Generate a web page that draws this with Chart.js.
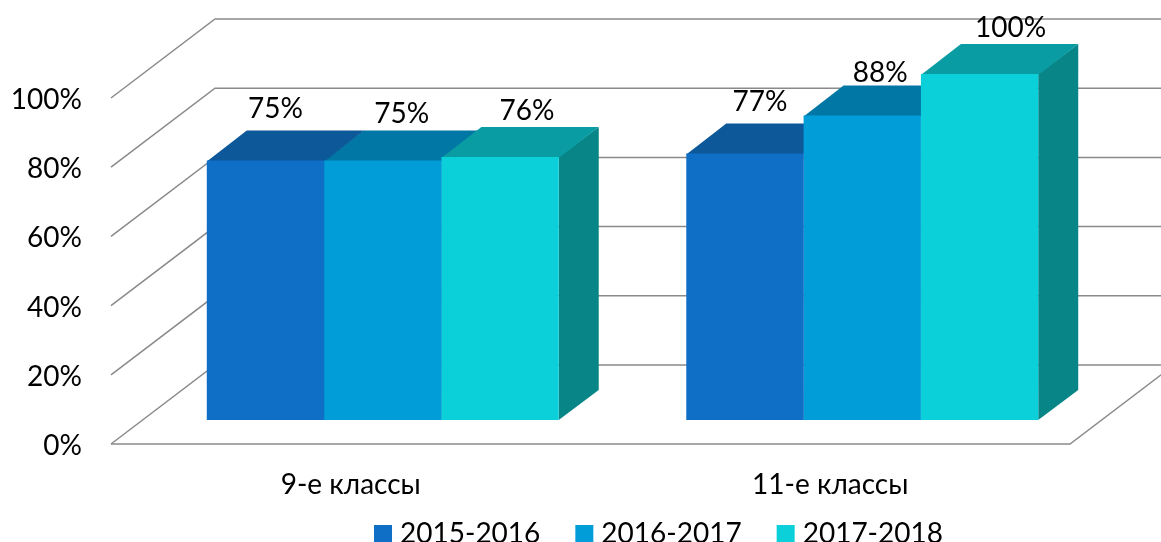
<!DOCTYPE html>
<html>
<head>
<meta charset="utf-8">
<style>
  html, body { margin: 0; padding: 0; background: #fff; }
  canvas { display: block; }
</style>
<script src="https://cdn.jsdelivr.net/npm/chart.js@4/dist/chart.umd.min.js"></script>
</head>
<body>
<canvas id="chart" width="1161" height="542"></canvas>
<script>
// ── DATA ──
const categories = ['9-е классы', '11-е классы'];
const seriesNames = ['2015-2016', '2016-2017', '2017-2018'];
const values2015 = [75, 77];
const values2016 = [75, 88];
const values2017 = [76, 100];
const yTicks = [0, 20, 40, 60, 80, 100];

// ── STYLE ──
const frontColors = ['#0f6fc6', '#009dd9', '#0bd0d9'];
const topColors = ['#0c5899', '#0177a5', '#0a9ca3'];
const sideColors = ['#09467d', '#006389', '#078587'];
const gridColor = '#8a8a8a';
const fontFamily = 'Lato, "Open Sans", sans-serif';

// how far the bars stand behind the axis plane, the wall behind it, and the bar depth
const barPlane = { x: 32, y: 24 };
const wallPlane = { x: 104, y: 79 };
const barDepth = { x: 40, y: 30 };

// label nudges from the bar's top centre [series][category]
const labelDx = [[10, 15], [19, 18], [27, 31]];
const labelDy = [[-52, -52], [-47, -43], [-46, -46]];

// ── 3D WALLS AND BAR FACES ──
const depth3d = {
  id: 'depth3d',
  afterLayout(chart) {
    // legend sits right of centre and hugs the bottom edge, like the original
    const lg = chart.legend;
    const w = lg.right - lg.left;
    const h = lg.bottom - lg.top;
    lg.left = 661.5 - w / 2;
    lg.right = lg.left + w;
    lg.top = 479;
    lg.bottom = lg.top + h;
    // axis box is kept short for the layout, labels need the room below it
    chart.scales.x.bottom = chart.scales.x.top + 100;
  },
  beforeDatasetsDraw(chart) {
    const { ctx, scales: { x, y } } = chart;
    const frontLeft = x.left - barPlane.x;
    const frontRight = x.right - barPlane.x;
    const backLeft = frontLeft + wallPlane.x;

    ctx.save();
    ctx.strokeStyle = gridColor;
    ctx.lineWidth = 1.5;
    yTicks.forEach(v => {
      const py = y.getPixelForValue(v) + barPlane.y;
      ctx.beginPath();
      ctx.moveTo(frontLeft, py);
      ctx.lineTo(backLeft, py - wallPlane.y);
      ctx.lineTo(chart.width, py - wallPlane.y);
      ctx.stroke();
    });
    // floor edge
    const floor = y.getPixelForValue(0) + barPlane.y;
    ctx.beginPath();
    ctx.moveTo(frontLeft, floor);
    ctx.lineTo(frontRight, floor);
    ctx.lineTo(frontRight + wallPlane.x, floor - wallPlane.y);
    ctx.stroke();

    // tops and sides go under the fronts, left to right
    categories.forEach((c, j) => {
      seriesNames.forEach((s, i) => {
        const bar = chart.getDatasetMeta(i).data[j];
        const l = bar.x - bar.width / 2;
        const r = bar.x + bar.width / 2;
        ctx.fillStyle = sideColors[i];
        ctx.beginPath();
        ctx.moveTo(r, bar.y);
        ctx.lineTo(r + barDepth.x, bar.y - barDepth.y);
        ctx.lineTo(r + barDepth.x, bar.base - barDepth.y);
        ctx.lineTo(r, bar.base);
        ctx.closePath();
        ctx.fill();
        ctx.fillStyle = topColors[i];
        ctx.beginPath();
        ctx.moveTo(l, bar.y + 1); // tucked 1px under the front so no light seam shows
        ctx.lineTo(l + barDepth.x, bar.y - barDepth.y);
        ctx.lineTo(r + barDepth.x, bar.y - barDepth.y);
        ctx.lineTo(r, bar.y + 1);
        ctx.closePath();
        ctx.fill();
      });
    });
    ctx.restore();
  },
  afterDatasetsDraw(chart) {
    const { ctx } = chart;
    ctx.save();
    ctx.font = `28px ${fontFamily}`;
    ctx.fillStyle = '#000';
    ctx.textAlign = 'center';
    ctx.textBaseline = 'middle';
    chart.data.datasets.forEach((ds, i) => {
      chart.getDatasetMeta(i).data.forEach((bar, j) => {
        ctx.fillText(`${ds.data[j]}%`, bar.x + labelDx[i][j], bar.y + labelDy[i][j]);
      });
    });
    ctx.restore();
  },
};

// ── CHART ──
new Chart(document.getElementById('chart'), {
  type: 'bar',
  data: {
    labels: categories,
    datasets: [
      { label: seriesNames[0], data: values2015, backgroundColor: frontColors[0] },
      { label: seriesNames[1], data: values2016, backgroundColor: frontColors[1] },
      { label: seriesNames[2], data: values2017, backgroundColor: frontColors[2] },
    ],
  },
  plugins: [depth3d],
  options: {
    responsive: false,
    animation: false,
    layout: { padding: { top: 74, right: 59, left: 0, bottom: 0 } },
    categoryPercentage: 0.734,
    barPercentage: 1,
    plugins: {
      tooltip: { enabled: false },
      legend: {
        position: 'bottom',
        labels: {
          color: '#000',
          font: { family: fontFamily, size: 28 },
          boxWidth: 6,
          boxHeight: 6,
          padding: 41,
          // thick stroke makes the swatch 18px while keeping the text close to it
          generateLabels: chart => chart.data.datasets.map((ds, i) => ({
            text: ds.label,
            fillStyle: frontColors[i],
            strokeStyle: frontColors[i],
            lineWidth: 12,
            datasetIndex: i,
          })),
        },
      },
    },
    scales: {
      x: {
        grid: { display: false },
        border: { display: false },
        afterFit: s => { s.height = 43; },
        ticks: {
          color: '#000',
          font: { family: fontFamily, size: 28 },
          padding: 40,
          labelOffset: -32,
          maxRotation: 0,
        },
      },
      y: {
        min: 0,
        max: 100,
        grid: { display: false },
        border: { display: false },
        afterFit: s => { s.width = 143; },
        ticks: {
          stepSize: 20,
          color: '#000',
          font: { family: fontFamily, size: 28 },
          padding: 53,
          labelOffset: 26,
          callback: v => `${v}%`,
        },
      },
    },
  },
});
</script>
</body>
</html>
